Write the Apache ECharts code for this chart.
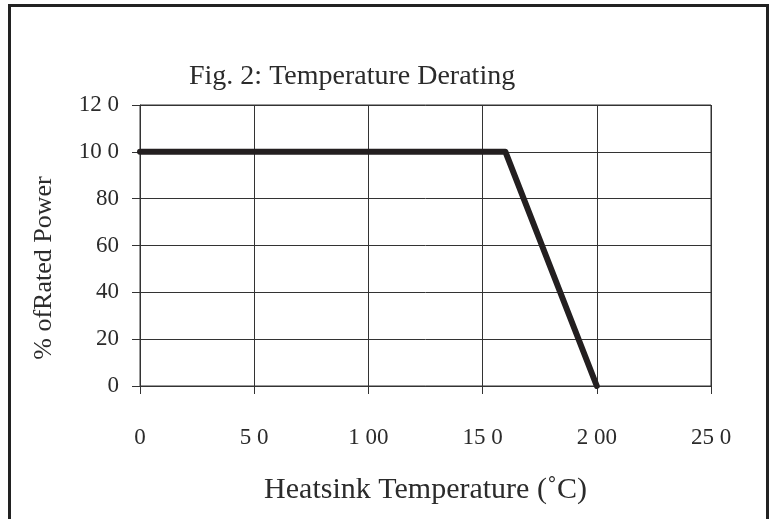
<!DOCTYPE html>
<html>
<head>
<meta charset="utf-8">
<script src="https://cdn.jsdelivr.net/npm/echarts@6/dist/echarts.min.js"></script>
<style>
html,body{margin:0;padding:0;background:#fff;}
#chart{width:776px;height:519px;}
</style>
</head>
<body>
<div id="chart"></div>
<script>
// Data
const temperatures = [0, 20, 40, 60, 80, 100, 120, 140, 160, 200];
const ratedPower   = [100, 100, 100, 100, 100, 100, 100, 100, 100, 0];
const xTickLabels = {0: '0', 50: '5 0', 100: '1 00', 150: '15 0', 200: '2 00', 250: '25 0'};
const yTickLabels = {0: '0', 20: '20', 40: '40', 60: '60', 80: '80', 100: '10 0', 120: '12 0'};
const titleText = 'Fig. 2: Temperature Derating';
const xAxisTitle = 'Heatsink Temperature (˚C)';
const yAxisTitle = '% ofRated Power';

const FONT = '"Liberation Serif", "DejaVu Serif", serif';
const TXT = '#2b2b2b';
const GRID = '#333';

const chart = echarts.init(document.getElementById('chart'), null, {renderer: 'canvas'});
chart.setOption({
  animation: false,
  backgroundColor: '#fff',
  title: {
    text: titleText,
    left: 184, top: 58,
    textStyle: {fontFamily: FONT, fontSize: 28, fontWeight: 'normal', color: TXT}
  },
  graphic: [{
    type: 'rect', silent: true,
    shape: {x: 9.5, y: 5.5, width: 758, height: 560},
    style: {fill: 'none', stroke: '#222', lineWidth: 3}
  }, {
    type: 'text', silent: true,
    x: 44, y: 268, rotation: Math.PI / 2,
    style: {text: yAxisTitle, fontFamily: FONT, fontSize: 26, fill: TXT,
      align: 'center', verticalAlign: 'middle'}
  }],
  grid: {left: 140, right: 65, top: 105, bottom: 133, containLabel: false,
    show: true, borderColor: GRID, borderWidth: 1, backgroundColor: 'transparent'},
  xAxis: {
    type: 'value', min: 0, max: 250, interval: 50,
    name: xAxisTitle, nameLocation: 'middle', nameGap: 89,
    nameTextStyle: {fontFamily: FONT, fontSize: 30, color: TXT},
    axisLine: {show: true, lineStyle: {color: GRID, width: 1}},
    axisTick: {show: true, inside: false, length: 8, lineStyle: {color: GRID}},
    axisLabel: {margin: 40, fontFamily: FONT, fontSize: 23, color: TXT,
      formatter: v => xTickLabels[v] !== undefined ? xTickLabels[v] : String(v)},
    splitLine: {show: true, lineStyle: {color: GRID, width: 1}}
  },
  yAxis: {
    type: 'value', min: 0, max: 120, interval: 20,
    axisLine: {show: true, lineStyle: {color: GRID, width: 1}},
    axisTick: {show: true, inside: false, length: 8, lineStyle: {color: GRID}},
    axisLabel: {margin: 21, fontFamily: FONT, fontSize: 23, color: TXT,
      formatter: v => yTickLabels[v] !== undefined ? yTickLabels[v] : String(v)},
    splitLine: {show: true, lineStyle: {color: GRID, width: 1}}
  },
  series: [{
    type: 'line',
    data: temperatures.map((t, i) => [t, ratedPower[i]]),
    symbol: 'none',
    lineStyle: {color: '#231f20', width: 6, cap: 'round', join: 'round'},
    z: 5
  }]
});
</script>
</body>
</html>
